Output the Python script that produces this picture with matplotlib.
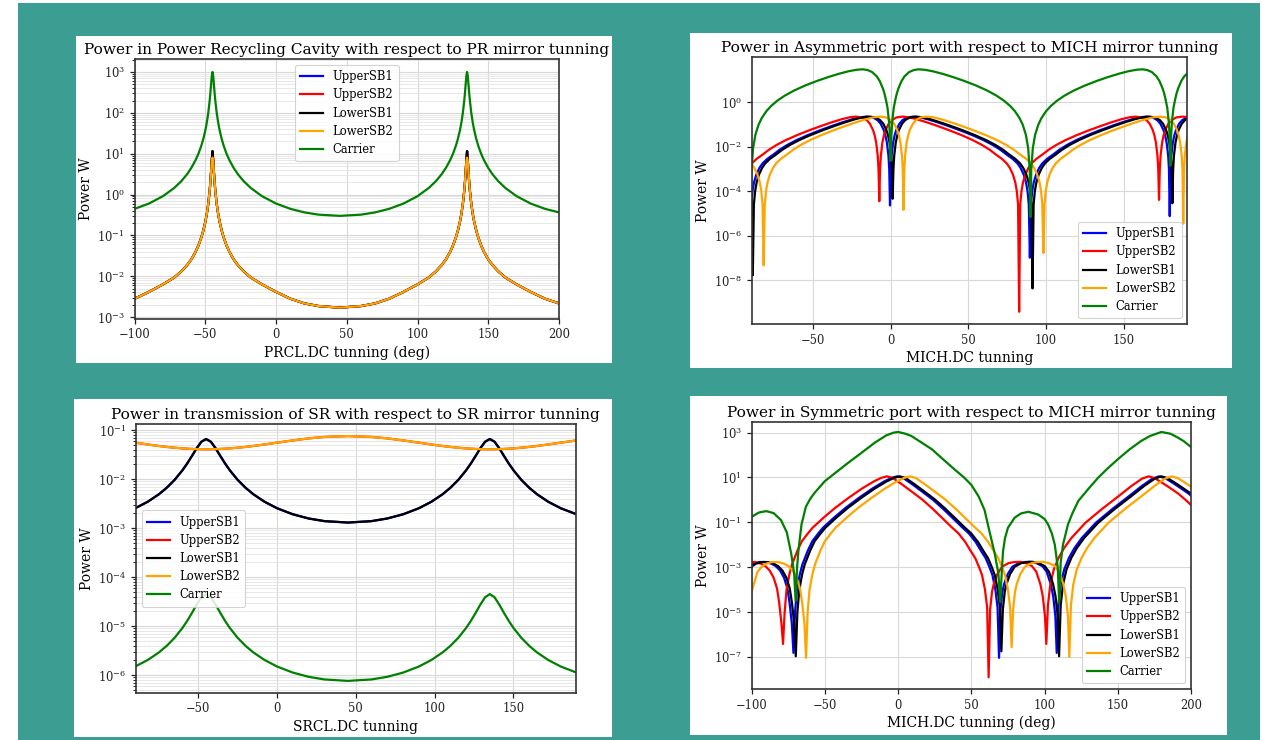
import numpy as np
import matplotlib
matplotlib.use("Agg")
import matplotlib.pyplot as plt
from matplotlib.patches import Rectangle
from matplotlib.ticker import NullLocator, FixedLocator, LogLocator

plt.rcParams["font.family"] = ["DejaVu Serif"]
plt.rcParams["mathtext.fontset"] = "dejavuserif"

W, H = 1263, 740

SERIES = ["UpperSB1", "UpperSB2", "LowerSB1", "LowerSB2", "Carrier"]
COLORS = ["blue", "red", "black", "orange", "green"]

# ---------------- Panel 1: power recycling cavity vs PRCL ----------------
p1_x = [-100, -90, -80, -72, -67, -63, -60, -57, -55, -53,
        -51.5, -50, -49, -48, -47, -46.5, -46, -45.5, -45, -44.5,
        -44, -43.5, -43, -42, -41, -40, -38.5, -37, -35, -33,
        -30, -27, -23, -18, -10, 0, 10, 20, 30, 45,
        60, 70, 80, 90, 100, 108, 113, 117, 120, 123,
        125, 127, 128.5, 130, 131, 132, 133, 133.5, 134, 134.5,
        135, 135.5, 136, 136.5, 137, 138, 139, 140, 141.5, 143,
        145, 147, 150, 153, 157, 162, 170, 180, 190, 200]
p1_carrier = [0.447, 0.600, 0.911, 1.454, 2.13, 3.13, 4.46, 6.89, 9.85, 15.3,
              22.9, 38.0, 58.1, 98.7, 198, 304.5, 496, 797, 1000, 797,
              496, 304.5, 198, 98.7, 58.1, 38.0, 22.9, 15.3, 9.85, 6.89,
              4.46, 3.13, 2.13, 1.454, 0.911, 0.600, 0.447, 0.365, 0.3215, 0.300,
              0.3215, 0.365, 0.447, 0.600, 0.911, 1.454, 2.13, 3.13, 4.46, 6.89,
              9.85, 15.3, 22.9, 38.0, 58.1, 98.7, 198, 304.5, 496, 797,
              1000, 797, 496, 304.5, 198, 98.7, 58.1, 38.0, 22.9, 15.3,
              9.85, 6.89, 4.46, 3.13, 2.13, 1.454, 0.911, 0.600, 0.447, 0.365]
p1_lsb1 = [0.00282, 0.00412, 0.00631, 0.00933, 0.01318, 0.01862, 0.0257, 0.0392, 0.0561, 0.0870,
           0.131, 0.219, 0.338, 0.585, 1.225, 1.99, 3.58, 6.91, 11.5, 6.91,
           3.58, 1.99, 1.225, 0.585, 0.338, 0.219, 0.131, 0.0870, 0.0561, 0.0392,
           0.0257, 0.01862, 0.01318, 0.00933, 0.00631, 0.00412, 0.00282, 0.00216, 0.00186, 0.0017,
           0.00186, 0.00216, 0.00282, 0.00412, 0.00631, 0.00933, 0.01318, 0.01862, 0.0257, 0.0392,
           0.0561, 0.0870, 0.131, 0.219, 0.338, 0.585, 1.225, 1.99, 3.58, 6.91,
           11.5, 6.91, 3.58, 1.99, 1.225, 0.585, 0.338, 0.219, 0.131, 0.0870,
           0.0561, 0.0392, 0.0257, 0.01862, 0.01318, 0.00933, 0.00631, 0.00412, 0.00282, 0.00216]
p1_usb1 = p1_lsb1
p1_usb2 = p1_lsb1
p1_lsb2 = [0.00282, 0.00412, 0.00631, 0.00933, 0.01318, 0.01862, 0.0257, 0.0392, 0.0561, 0.0870,
           0.131, 0.219, 0.338, 0.585, 1.225, 1.99, 3.58, 6.4, 8.0, 6.4,
           3.58, 1.99, 1.225, 0.585, 0.338, 0.219, 0.131, 0.0870, 0.0561, 0.0392,
           0.0257, 0.01862, 0.01318, 0.00933, 0.00631, 0.00412, 0.00282, 0.00216, 0.00186, 0.0017,
           0.00186, 0.00216, 0.00282, 0.00412, 0.00631, 0.00933, 0.01318, 0.01862, 0.0257, 0.0392,
           0.0561, 0.0870, 0.131, 0.219, 0.338, 0.585, 1.225, 1.99, 3.58, 6.4,
           8.0, 6.4, 3.58, 1.99, 1.225, 0.585, 0.338, 0.219, 0.131, 0.0870,
           0.0561, 0.0392, 0.0257, 0.01862, 0.01318, 0.00933, 0.00631, 0.00412, 0.00282, 0.00216]

# ---------------- Panel 2: asymmetric port vs MICH ----------------
# half-lobe profiles: distance from a sharp dip -> log10(power)
p2_sb_t = [0.5, 1, 2, 3, 4, 6, 8, 11, 15, 19, 24, 30, 37, 45, 53, 60, 66, 71, 75, 79,
           82, 84, 86, 87.5, 88.5, 89.3]
p2_sb_log = [-3.005, -2.405, -1.814, -1.480, -1.255, -0.970, -0.807, -0.685, -0.646, -0.676,
             -0.760, -0.889, -1.056, -1.260, -1.481, -1.698, -1.916, -2.135, -2.35, -2.55,
             -2.75, -2.95, -3.25, -3.6, -4.0, -4.6]
p2_car_t = [0.5, 1, 2, 3, 4, 5, 7, 9, 12, 15, 18, 22, 27, 33, 40, 47, 55, 62, 68, 73,
            77, 80, 83, 85, 87, 88.5, 89.5]
p2_car_log = [-1.5, -0.9, -0.25, 0.1, 0.4, 0.62, 0.95, 1.17, 1.36, 1.45, 1.48, 1.458, 1.394,
              1.285, 1.135, 0.967, 0.751, 0.530, 0.302, 0.066, -0.174, -0.406, -0.719,
              -1.013, -1.457, -2.060, -3.014]
# dip positions (deg) and dip depths (log10 W) per series
p2_sharp_pos = {"UpperSB1": [-180.4, -0.4, 179.6], "UpperSB2": [-187.3, -7.3, 172.7],
                "LowerSB1": [-178.7, 1.3, 181.3], "LowerSB2": [-171.7, 8.3, 188.3],
                "Carrier": [-180, 0, 180]}
p2_sharp_depth = {"UpperSB1": [-4.6, -4.64, -5.12], "UpperSB2": [-4.4, -4.45, -4.39],
                  "LowerSB1": [-4.5, -4.34, -4.54], "LowerSB2": [-4.8, -4.84, -5.46],
                  "Carrier": [-2.6, -2.63, -2.85]}
p2_broad_pos = {"UpperSB1": [-90.4, 89.6, 269.6], "UpperSB2": [-97.3, 82.7, 262.7],
                "LowerSB1": [-88.7, 91.3, 271.3], "LowerSB2": [-81.7, 98.3, 278.3],
                "Carrier": [-90, 90, 270]}
p2_broad_depth = {"UpperSB1": [-6.0, -6.99, -6.0], "UpperSB2": [-6.0, -9.42, -6.0],
                  "LowerSB1": [-7.78, -8.37, -6.0], "LowerSB2": [-7.33, -6.78, -6.0],
                  "Carrier": [-5.0, -5.16, -5.0]}

# ---------------- Panel 3: SR transmission vs SRCL ----------------
p3_x = [-90, -82, -75, -70, -65, -60, -57, -54, -51, -48,
        -45, -42, -39, -36, -33, -30, -25, -20, -15, -8,
        0, 10, 20, 30, 45, 60, 70, 80, 90, 98,
        105, 110, 115, 120, 123, 126, 129, 132, 135, 138,
        141, 144, 147, 150, 155, 160, 165, 172, 180, 190]
p3_lsb1 = [0.002548, 0.003466, 0.004907, 0.006671, 0.009669, 0.01522, 0.02093, 0.02975, 0.04274, 0.05808,
           0.066, 0.05808, 0.04274, 0.02975, 0.02093, 0.01522, 0.009669, 0.006671, 0.004907, 0.003466,
           0.002548, 0.001918, 0.001575, 0.001391, 0.001299, 0.001391, 0.001575, 0.001918, 0.002548, 0.003466,
           0.004907, 0.006671, 0.009669, 0.01522, 0.02093, 0.02975, 0.04274, 0.05808, 0.066, 0.05808,
           0.04274, 0.02975, 0.02093, 0.01522, 0.009669, 0.006671, 0.004907, 0.003466, 0.002548, 0.001918]
p3_usb1 = p3_lsb1
p3_lsb2 = [0.05559, 0.05105, 0.04758, 0.04551, 0.04385, 0.04246, 0.04188, 0.0414, 0.04102, 0.04083,
           0.04074, 0.04083, 0.04102, 0.0414, 0.04188, 0.04246, 0.04385, 0.04551, 0.04758, 0.05105,
           0.05559, 0.0618, 0.06792, 0.07278, 0.07586, 0.07278, 0.06792, 0.0618, 0.05559, 0.05105,
           0.04758, 0.04551, 0.04385, 0.04246, 0.04188, 0.0414, 0.04102, 0.04083, 0.04074, 0.04083,
           0.04102, 0.0414, 0.04188, 0.04246, 0.04385, 0.04551, 0.04758, 0.05105, 0.05559, 0.0618]
p3_usb2 = p3_lsb2
p3_carrier = [1.495e-6, 2.038e-6, 2.894e-6, 3.950e-6, 5.763e-6, 9.186e-6, 1.280e-5, 1.856e-5, 2.751e-5, 3.881e-5,
              4.5e-5, 3.881e-5, 2.751e-5, 1.856e-5, 1.280e-5, 9.186e-6, 5.763e-6, 3.950e-6, 2.894e-6, 2.038e-6,
              1.495e-6, 1.124e-6, 9.22e-7, 8.14e-7, 7.60e-7, 8.14e-7, 9.22e-7, 1.124e-6, 1.495e-6, 2.038e-6,
              2.894e-6, 3.950e-6, 5.763e-6, 9.186e-6, 1.280e-5, 1.856e-5, 2.751e-5, 3.881e-5, 4.5e-5, 3.881e-5,
              2.751e-5, 1.856e-5, 1.280e-5, 9.186e-6, 5.763e-6, 3.950e-6, 2.894e-6, 2.038e-6, 1.495e-6, 1.124e-6]

# ---------------- Panel 4: symmetric port vs MICH ----------------
p4_car_x = [-100, -95, -90, -85, -80, -76, -73, -71, -70, -69,
            -68, -66, -63, -60, -57, -50, -42, -34, -25, -16,
            -8, -3, 0, 5, 9, 15, 23, 30, 38.7, 45,
            50, 55, 59, 62, 66, 68.5, 69.7, 70.8, 71.6, 73,
            75, 79.6, 84, 89, 95.6, 100, 102.4, 105, 107, 109,
            110, 111, 112.6, 116, 119, 123, 130, 136.6, 143, 150,
            158, 166, 172, 179.8, 186, 191, 195, 200]
p4_car_log = [-0.75, -0.56, -0.50, -0.59, -0.90, -1.45, -2.4, -3.3, -4.5, -3.0,
              -2.2, -1.1, -0.3, 0.05, 0.32, 0.84, 1.25, 1.66, 2.1, 2.55,
              2.88, 3.0, 3.03, 2.95, 2.85, 2.6, 2.26, 1.85, 1.35, 1.0,
              0.67, 0.15, -0.45, -1.3, -2.4, -3.3, -4.55, -3.2, -2.3, -1.7,
              -1.24, -0.79, -0.6, -0.53, -0.65, -0.85, -1.09, -1.5, -2.0, -3.0,
              -4.59, -2.8, -1.99, -1.09, -0.6, -0.05, 0.5, 0.99, 1.4, 1.81,
              2.25, 2.63, 2.85, 3.03, 2.95, 2.78, 2.62, 2.36]
# LowerSB1 readings (x in deg, log10 W); other sidebands are the same shape offset in MICH
p4_lsb1_x = [-107, -103, -100, -97, -93, -89, -85, -82, -79, -76.3, -74, -72.5,
             -71, -69.9, -68.8, -67.5, -65.5, -63.8, -60, -57, -53, -49.7,
             -42, -34.2, -25, -15.9, -8, -3, 1, 5, 11.4, 18,
             25.1, 32, 38.7, 45, 50, 54.6, 58, 61.4, 64, 66,
             68, 69.5, 70.5, 71.5, 72.8, 74, 76.5, 79.6, 84, 88,
             92, 96, 100.1, 103, 105.8, 107.5, 109, 109.9, 111, 112.6,
             115, 118.3, 122, 127, 136.6, 148, 159.3, 168, 175.3, 179.8,
             184, 188.9, 194, 200, 205, 210]
p4_lsb1_log = [-4.07, -3.2, -2.97, -2.84, -2.77, -2.77, -2.84, -2.95, -3.15, -3.47, -3.95, -4.6,
               -5.5, -6.97, -5.0, -4.0, -3.3, -2.88, -2.25, -1.84, -1.5, -1.24,
               -0.78, -0.35, 0.1, 0.51, 0.82, 0.98, 1.05, 0.98, 0.69, 0.37,
               0.02, -0.38, -0.80, -1.2, -1.5, -1.88, -2.25, -2.6, -3.0, -3.35,
               -4.0, -4.8, -6.75, -4.9, -4.1, -3.75, -3.3, -2.98, -2.82, -2.77,
               -2.76, -2.82, -2.95, -3.2, -3.75, -4.3, -5.2, -6.97, -4.7, -3.77,
               -3.1, -2.58, -2.15, -1.7, -1.02, -0.4, 0.17, 0.62, 0.95, 1.05,
               0.97, 0.77, 0.55, 0.28, 0.0, -0.3]
p4_offset = {"UpperSB1": -1.6, "UpperSB2": -8.7, "LowerSB1": 0.0, "LowerSB2": 7.0}
p4_dip_depth = {"UpperSB1": [-6.82, -7.04, -6.82], "UpperSB2": [-6.42, -7.91, -6.42],
                "LowerSB1": [-6.97, -6.75, -6.97], "LowerSB2": [-7.04, -6.57, -7.0]}


# ---------------- helpers ----------------
def mirrored(name, prof_t, prof_log):
    xs, ys = [], []
    for p, d in zip(p2_sharp_pos[name], p2_sharp_depth[name]):
        xs.append(p)
        ys.append(d)
        for t, v in zip(prof_t, prof_log):
            xs += [p - t, p + t]
            ys += [v, v]
    for p, d in zip(p2_broad_pos[name], p2_broad_depth[name]):
        xs.append(p)
        ys.append(d)
    order = np.argsort(xs)
    return np.asarray(xs)[order], 10.0 ** np.asarray(ys)[order]


def p4_series(name):
    xs = np.asarray(p4_lsb1_x) + p4_offset[name]
    ys = np.asarray(p4_lsb1_log, dtype=float).copy()
    idx = np.where(ys < -6.5)[0]
    ys[idx] = p4_dip_depth[name]
    return xs, 10.0 ** ys


def frac_rect(x0, y0, x1, y1):
    return [x0 / W, 1 - y1 / H, (x1 - x0) / W, (y1 - y0) / H]


fig = plt.figure(figsize=(W / 100, H / 100), dpi=100)
fig.patch.set_facecolor("white")
fig.add_artist(Rectangle((18 / W, 0), (1260 - 18) / W, (H - 3) / H,
                         transform=fig.transFigure, facecolor="#3c9e92", edgecolor="none", zorder=0))
for (x0, y0, x1, y1) in [(76, 36, 612, 363), (690, 33, 1232, 368),
                         (74, 399, 612, 737), (690, 396, 1227, 735)]:
    fig.add_artist(Rectangle((x0 / W, 1 - y1 / H), (x1 - x0) / W, (y1 - y0) / H,
                             transform=fig.transFigure, facecolor="white", edgecolor="none", zorder=1))

TICK_FS = 8.3
LAB_FS = 10.0
TITLE_FS = 11.1
LEG_FS = 8.3
LW = 1.6


def style(ax, title, xlabel, xlim, ylim, xticks, yticks, minor, legloc):
    ax.set_yscale("log")
    ax.set_xlim(*xlim)
    ax.set_ylim(*ylim)
    ax.set_xticks(xticks)
    ax.yaxis.set_major_locator(FixedLocator(yticks))
    if minor:
        ax.yaxis.set_minor_locator(LogLocator(base=10, subs=np.arange(2, 10), numticks=30))
        ax.grid(True, which="minor", axis="y", color="#e4e4e4", lw=0.6)
    else:
        ax.yaxis.set_minor_locator(NullLocator())
    ax.grid(True, which="major", color="#d8d8d8", lw=0.8)
    ax.set_axisbelow(True)
    ax.set_title(title, fontsize=TITLE_FS, pad=4)
    ax.set_xlabel(xlabel, fontsize=LAB_FS, labelpad=3)
    ax.set_ylabel("Power W", fontsize=LAB_FS, labelpad=3)
    ax.tick_params(labelsize=TICK_FS, colors="#222222", width=0.9, length=3.5)
    ax.tick_params(which="minor", length=2, width=0.6)
    for s in ax.spines.values():
        s.set_color("#333333")
        s.set_linewidth(1.2)
    leg = ax.legend(loc=legloc, fontsize=LEG_FS, framealpha=0.85, edgecolor="#cccccc",
                    borderpad=0.45, labelspacing=0.45, handlelength=2.0)
    leg.get_frame().set_linewidth(0.8)


# Panel 1
ax1 = fig.add_axes(frac_rect(134.7, 59.3, 559, 318.7), zorder=2)
for name, ys, c in zip(SERIES, [p1_usb1, p1_usb2, p1_lsb1, p1_lsb2, p1_carrier], COLORS):
    ax1.plot(p1_x, ys, color=c, lw=LW, label=name)
style(ax1, "Power in Power Recycling Cavity with respect to PR mirror tunning",
      "PRCL.DC tunning (deg)", (-100, 200), (10 ** -3.04, 10 ** 3.31),
      [-100, -50, 0, 50, 100, 150, 200], [1e-3, 1e-2, 1e-1, 1e0, 1e1, 1e2, 1e3], True, "upper center")

# Panel 2
ax2 = fig.add_axes(frac_rect(751.7, 57.3, 1187.3, 324), zorder=2)
for name, c in zip(SERIES, COLORS):
    if name == "Carrier":
        xs, ys = mirrored(name, p2_car_t, p2_car_log)
    else:
        xs, ys = mirrored(name, p2_sb_t, p2_sb_log)
    ax2.plot(xs, ys, color=c, lw=LW, label=name)
style(ax2, "Power in Asymmetric port with respect to MICH mirror tunning",
      "MICH.DC tunning", (-89.4, 190.9), (10 ** -9.97, 10 ** 2.02),
      [-50, 0, 50, 100, 150], [1e-8, 1e-6, 1e-4, 1e-2, 1e0], False, "lower right")

# Panel 3
ax3 = fig.add_axes(frac_rect(136, 424.3, 575.7, 692.7), zorder=2)
for name, ys, c in zip(SERIES, [p3_usb1, p3_usb2, p3_lsb1, p3_lsb2, p3_carrier], COLORS):
    ax3.plot(p3_x, ys, color=c, lw=LW, label=name)
style(ax3, "Power in transmission of SR with respect to SR mirror tunning",
      "SRCL.DC tunning", (-89.5, 189.5), (10 ** -6.36, 10 ** -0.88),
      [-50, 0, 50, 100, 150], [1e-6, 1e-5, 1e-4, 1e-3, 1e-2, 1e-1], True, "center left")

# Panel 4
ax4 = fig.add_axes(frac_rect(751.7, 422.3, 1191, 689), zorder=2)
for name, c in zip(SERIES, COLORS):
    if name == "Carrier":
        xs, ys = np.asarray(p4_car_x), 10.0 ** np.asarray(p4_car_log)
    else:
        xs, ys = p4_series(name)
    ax4.plot(xs, ys, color=c, lw=LW, label=name)
style(ax4, "Power in Symmetric port with respect to MICH mirror tunning",
      "MICH.DC tunning (deg)", (-100, 200), (10 ** -8.43, 10 ** 3.46),
      [-100, -50, 0, 50, 100, 150, 200], [1e-7, 1e-5, 1e-3, 1e-1, 1e1, 1e3], False, "lower right")

fig.savefig("out.png", dpi=100)
